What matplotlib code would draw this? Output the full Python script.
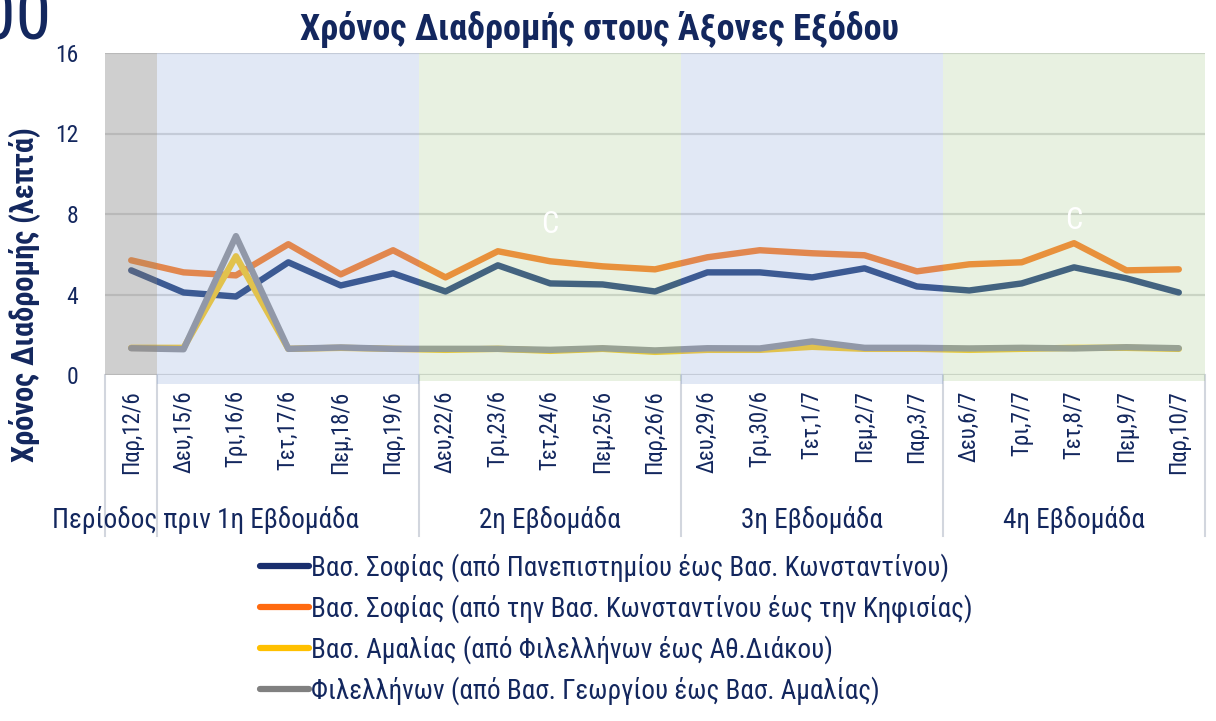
#!/usr/bin python3

# import required libraries
import matplotlib
matplotlib.use("Agg")
import matplotlib.pyplot as plt
from matplotlib import font_manager
from matplotlib.lines import Line2D
import matplotlib.transforms as mtransforms

# chart data
days = ["Παρ,12/6", "Δευ,15/6", "Τρι,16/6", "Τετ,17/6", "Πεμ,18/6", "Παρ,19/6",
        "Δευ,22/6", "Τρι,23/6", "Τετ,24/6", "Πεμ,25/6", "Παρ,26/6",
        "Δευ,29/6", "Τρι,30/6", "Τετ,1/7", "Πεμ,2/7", "Παρ,3/7",
        "Δευ,6/7", "Τρι,7/7", "Τετ,8/7", "Πεμ,9/7", "Παρ,10/7"]

sofias_panep = [5.2, 4.1, 3.9, 5.6, 4.45, 5.05, 4.15, 5.45, 4.55, 4.5, 4.15,
                5.1, 5.1, 4.85, 5.3, 4.4, 4.2, 4.55, 5.35, 4.8, 4.1]
sofias_kifis = [5.7, 5.1, 4.95, 6.5, 5.0, 6.2, 4.85, 6.15, 5.65, 5.4, 5.25,
                5.85, 6.2, 6.05, 5.95, 5.15, 5.5, 5.6, 6.55, 5.2, 5.25]
amalias = [1.35, 1.35, 5.9, 1.3, 1.35, 1.3, 1.25, 1.3, 1.2, 1.3, 1.15,
           1.25, 1.25, 1.4, 1.3, 1.3, 1.25, 1.3, 1.35, 1.35, 1.3]
filellinon = [1.33, 1.28, 6.9, 1.3, 1.37, 1.3, 1.3, 1.3, 1.25, 1.33, 1.22,
              1.33, 1.32, 1.67, 1.35, 1.35, 1.32, 1.35, 1.32, 1.38, 1.33]

series_names = ["Βασ. Σοφίας (από Πανεπιστημίου έως Βασ. Κωνσταντίνου)",
                "Βασ. Σοφίας (από την Βασ. Κωνσταντίνου έως την Κηφισίας)",
                "Βασ. Αμαλίας (από Φιλελλήνων έως Αθ.Διάκου)",
                "Φιλελλήνων (από Βασ. Γεωργίου έως Βασ. Αμαλίας)"]

groups = ["Περίοδος πριν", "1η Εβδομάδα", "2η Εβδομάδα", "3η Εβδομάδα", "4η Εβδομάδα"]
group_sizes = [1, 5, 5, 5, 5]


# a narrow font with greek letters looks closest to the original
def has_greek(entry):
    try:
        font = font_manager.get_font(entry.fname)
        return all(font.get_char_index(ord(c)) for c in "ΣΔλώ")
    except Exception:
        return False


greek_narrow = sorted({f.name for f in font_manager.fontManager.ttflist
                       if ("Narrow" in f.name or "Condensed" in f.name) and has_greek(f)})
preferred = ["Liberation Sans Narrow", "Arial Narrow", "Roboto Condensed",
             "Open Sans Condensed", "Fira Sans Condensed", "Noto Sans Condensed"]
main_font = next((p for p in preferred if p in greek_narrow),
                 greek_narrow[0] if greek_narrow else "Liberation Sans")
plt.rcParams["font.family"] = [main_font, "DejaVu Sans"]

navy = "#13275e"
line_colors = ["#3b568b", "#ff8c3a", "#ffd138", "#a0a0a3"]
legend_colors = ["#1a2f6e", "#ff6a10", "#ffc000", "#808080"]
band_colors = [("#7f7f7f", 0.37), ("#4472c4", 0.155), ("#70ad47", 0.16),
               ("#4472c4", 0.155), ("#70ad47", 0.16)]
band_bottom = [0.0, -0.028, -0.02, -0.028, -0.02]


def main():
    fig = plt.figure(figsize=(12.16, 7.21), dpi=100)
    ax = fig.add_axes([105 / 1216, 1 - 375 / 721, 1100 / 1216, 322 / 721])

    x = list(range(len(days)))
    for vals, col in zip([sofias_panep, sofias_kifis, amalias, filellinon], line_colors):
        ax.plot(x, vals, color=col, lw=4.6, solid_capstyle="round", zorder=2)

    # shaded periods drawn on top, semi transparent
    start = -0.5
    bounds = [start]
    for size, (col, a), bot in zip(group_sizes, band_colors, band_bottom):
        ax.axvspan(start, start + size, ymin=bot, ymax=1, color=col, alpha=a,
                   lw=0, zorder=3, clip_on=False)
        start += size
        bounds.append(start)

    ax.set_xlim(-0.5, len(days) - 0.5)
    ax.set_ylim(0, 16)
    ax.set_yticks([0, 4, 8, 12, 16])
    ax.yaxis.grid(True, color="#dcdcdc", lw=1.6, zorder=1)
    ax.set_axisbelow(True)
    for s in ax.spines.values():
        s.set_visible(False)

    ax.set_xticks(x)
    ax.set_xticklabels(days, rotation=90, va="top", ha="center")
    ax.tick_params(axis="x", length=0, pad=11, labelsize=16.5, labelcolor=navy)
    ax.tick_params(axis="y", length=0, pad=19.5, labelsize=17, labelcolor=navy)

    # group separators and labels under the axis
    trans = mtransforms.blended_transform_factory(ax.transData, ax.transAxes)
    for b in bounds:
        ax.plot([b, b], [0, -0.5], color="#d2d6de", lw=1.5, transform=trans,
                clip_on=False, zorder=1)
    pos = -0.5
    for g, size in zip(groups, group_sizes):
        ax.text(pos + size / 2, -0.45, g, transform=trans, ha="center",
                va="center", fontsize=19.5, color=navy)
        pos += size

    ax.text(8, 7.5, "C", color="white", fontsize=22, ha="center", va="center", zorder=5)
    ax.text(18, 7.7, "C", color="white", fontsize=22, ha="center", va="center", zorder=5)

    fig.text(0.493, 1 - 29 / 721, "Χρόνος Διαδρομής στους Άξονες Εξόδου",
             ha="center", va="center", fontsize=26, fontweight="bold", color=navy)
    fig.text(25 / 1216, 1 - 295 / 721, "Χρόνος Διαδρομής (λεπτά)", rotation=90,
             ha="center", va="center", fontsize=22, fontweight="bold", color=navy)
    fig.text(-20 / 1216, 1 - 40 / 721, "00", fontsize=52, color=navy, va="baseline")

    handles = [Line2D([], [], color=c, lw=4.5, solid_capstyle="round") for c in legend_colors]
    fig.legend(handles, series_names, loc="upper left",
               bbox_to_anchor=(260 / 1216, 1 - 553 / 721), frameon=False,
               fontsize=19.5, labelcolor=navy, handlelength=1.8, handletextpad=0.08,
               labelspacing=0.45, borderpad=0, borderaxespad=0)

    fig.savefig("out.png", dpi=100)


if __name__ == '__main__':
    main()
